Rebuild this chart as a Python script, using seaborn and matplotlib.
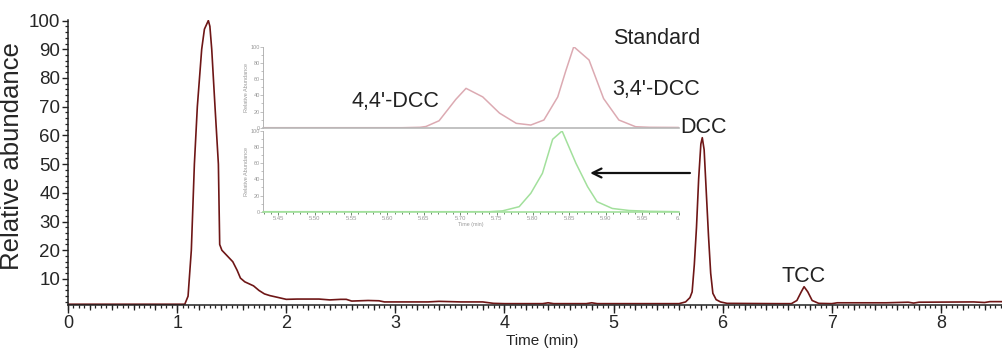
import matplotlib
matplotlib.use("Agg")
import matplotlib.pyplot as plt
from matplotlib.ticker import MultipleLocator, FixedLocator, NullFormatter
import seaborn as sns
import pandas as pd

# ---------------- data ----------------
main_time = [0.00, 1.00, 1.07, 1.10, 1.13, 1.158, 1.185, 1.225, 1.25, 1.286, 1.30, 1.317,
             1.347, 1.378, 1.39, 1.41, 1.46, 1.51, 1.55, 1.58, 1.62, 1.66, 1.70, 1.75,
             1.80, 1.85, 1.92, 2.00, 2.10, 2.30, 2.40, 2.50, 2.55, 2.60, 2.75, 2.85,
             2.90, 3.00, 3.30, 3.40, 3.60, 3.80, 3.90, 4.00, 4.35, 4.40, 4.45, 4.75,
             4.80, 4.85, 5.00, 5.40, 5.60, 5.66, 5.70, 5.72, 5.74, 5.76, 5.78, 5.80,
             5.813, 5.83, 5.85, 5.87, 5.89, 5.91, 5.94, 5.98, 6.04, 6.50, 6.63, 6.68,
             6.72, 6.746, 6.78, 6.82, 6.88, 7.00, 7.05, 7.50, 7.70, 7.75, 7.80, 8.30,
             8.40, 8.45, 8.56]
main_abund = [1.2, 1.2, 1.2, 4.0, 20.0, 50.0, 70.0, 90.0, 97.0, 100.0, 98.0, 90.0,
              70.0, 50.0, 22.0, 20.0, 18.0, 16.0, 13.0, 10.3, 9.0, 8.3, 7.6, 6.0,
              4.8, 4.2, 3.6, 2.9, 3.0, 3.0, 2.7, 2.9, 2.9, 2.3, 2.5, 2.4,
              2.0, 2.0, 2.0, 2.2, 2.0, 2.0, 1.5, 1.4, 1.4, 1.7, 1.4, 1.4,
              1.7, 1.4, 1.4, 1.4, 1.4, 2.0, 3.5, 5.5, 15.0, 28.0, 45.0, 57.0,
              59.2, 55.0, 40.0, 25.0, 12.0, 5.0, 2.8, 2.0, 1.5, 1.4, 1.4, 2.5,
              5.5, 7.3, 5.5, 2.5, 1.5, 1.4, 1.7, 1.7, 1.9, 1.6, 1.9, 2.0,
              1.8, 2.1, 2.1]

std_time = [5.43, 5.62, 5.645, 5.653, 5.671, 5.694, 5.708, 5.731, 5.754, 5.777, 5.797,
            5.815, 5.834, 5.845, 5.856, 5.877, 5.897, 5.918, 5.941, 5.96, 6.00]
std_abund = [0.0, 0.0, 0.5, 1.5, 8.6, 35.0, 48.6, 38.0, 18.0, 5.4, 3.3,
             9.5, 38.0, 70.0, 100.0, 83.6, 36.0, 9.5, 1.2, 0.5, 0.3]

dcc_time = [5.43, 5.74, 5.758, 5.781, 5.797, 5.813, 5.827, 5.840, 5.859, 5.875, 5.888,
            5.909, 5.932, 5.96, 6.00]
dcc_abund = [0.0, 0.0, 1.0, 6.2, 22.8, 47.6, 89.7, 100.0, 60.0, 31.0, 12.4,
             4.0, 1.5, 0.5, 0.0]

main_yticks = [10, 20, 30, 40, 50, 60, 70, 80, 90, 100]
main_xticks = [0, 1, 2, 3, 4, 5, 6, 7, 8]
inset_xticks = [5.45, 5.50, 5.55, 5.60, 5.65, 5.70, 5.75, 5.80, 5.85, 5.90, 5.95, 6.00]
inset_xlabels = ["5.45", "5.50", "5.55", "5.60", "5.65", "5.70", "5.75", "5.80",
                 "5.85", "5.90", "5.95", "6."]
inset_yticks = [0, 20, 40, 60, 80, 100]

labels = ["Standard", "3,4'-DCC", "4,4'-DCC", "DCC", "TCC"]
label_x = [5.396, 5.388, 3.005, 5.82, 6.74]
label_y = [93.9, 75.9, 71.8, 62.7, 10.8]

# ---------------- styling ----------------
sns.set_theme(style="ticks")
plt.rcParams["font.family"] = ["Liberation Sans", "DejaVu Sans"]

fig = plt.figure(figsize=(10.02, 3.52), dpi=100)
ax = fig.add_axes([0.0679, 0.1341, 0.9321, 0.810])

main_df = pd.DataFrame({"time": main_time, "abund": main_abund})
sns.lineplot(data=main_df, x="time", y="abund", ax=ax, color="#6e1616",
             linewidth=1.2, sort=False)

ax.set_xlim(0, 8.56)
ax.set_ylim(1.0, 100.3)
for s in ["top", "right"]:
    ax.spines[s].set_visible(False)
for s in ["left", "bottom"]:
    ax.spines[s].set_color("#222222")
    ax.spines[s].set_linewidth(1.1)

ax.xaxis.set_major_locator(FixedLocator(main_xticks))
ax.xaxis.set_minor_locator(MultipleLocator(0.05))
ax.yaxis.set_major_locator(FixedLocator(main_yticks))
ax.yaxis.set_minor_locator(MultipleLocator(2))
ax.tick_params(axis="x", which="major", length=5.5, width=1.0, color="#222222",
               labelsize=13, pad=1.5, direction="out")
ax.tick_params(axis="x", which="minor", length=2.2, width=0.9, color="#222222")
ax.tick_params(axis="y", which="major", length=4.5, width=1.0, color="#222222",
               labelsize=13.5, pad=1, direction="out")
ax.tick_params(axis="y", which="minor", length=2.5, width=0.9, color="#222222")

# medium ticks every 0.2 min
sec = ax.secondary_xaxis("bottom")
sec.set_xticks([t / 5 for t in range(0, 43)])
sec.xaxis.set_major_formatter(NullFormatter())
sec.tick_params(axis="x", length=3.8, width=0.9, color="#222222")
sec.spines["bottom"].set_visible(False)

ax.set_xlabel("Time (min)", fontsize=11)
ax.xaxis.set_label_coords(0.508, -0.103)
ax.set_ylabel("Relative abundance", fontsize=18.5)
ax.yaxis.set_label_coords(-0.047, 0.52)

for txt, tx, ty in zip(labels, label_x, label_y):
    ax.text(tx, ty, txt, fontsize=15.5, ha="center", va="center", color="#222222")

ax.annotate("", xy=(4.785, 46.9), xytext=(5.70, 46.9),
            arrowprops=dict(arrowstyle="->", lw=1.6, color="#111111",
                            mutation_scale=16, shrinkA=0, shrinkB=0))

# ---------------- inset (standard chromatograms) ----------------
gray = "#a8a8a8"
ax_top = fig.add_axes([0.2628, 0.6372, 0.4144, 0.2301])
ax_bot = fig.add_axes([0.2628, 0.3986, 0.4144, 0.2293])

std_df = pd.DataFrame({"time": std_time, "abund": std_abund})
dcc_df = pd.DataFrame({"time": dcc_time, "abund": dcc_abund})
sns.lineplot(data=std_df, x="time", y="abund", ax=ax_top, color="#dcaab2",
             linewidth=1.1, sort=False)
sns.lineplot(data=dcc_df, x="time", y="abund", ax=ax_bot, color="#a2e09c",
             linewidth=1.1, sort=False)

for a in (ax_top, ax_bot):
    a.set_facecolor("none")
    a.set_xlim(5.4295, 6.0)
    a.set_ylim(0, 100)
    a.spines["top"].set_visible(False)
    a.spines["right"].set_visible(False)
    a.spines["left"].set_color(gray)
    a.spines["left"].set_linewidth(0.6)
    a.spines["bottom"].set_color(gray)
    a.spines["bottom"].set_linewidth(1.2)
    a.yaxis.set_major_locator(FixedLocator(inset_yticks))
    a.yaxis.set_minor_locator(MultipleLocator(10))
    a.tick_params(axis="y", which="major", length=2, width=0.5, color=gray,
                  labelsize=4, labelcolor="#999999", pad=0.5)
    a.tick_params(axis="y", which="minor", length=1.2, width=0.5, color=gray)
    a.set_ylabel("Relative Abundance", fontsize=4, color="#999999", labelpad=1)
    a.set_xlabel("")

ax_top.set_xticks([])
ax_top.spines["bottom"].set_color("#b8b8b8")

ax_bot.xaxis.set_major_locator(FixedLocator(inset_xticks))
ax_bot.set_xticklabels(inset_xlabels)
ax_bot.xaxis.set_minor_locator(MultipleLocator(0.01))
ax_bot.tick_params(axis="x", which="major", length=2, width=0.6, color="#557755",
                   labelsize=4.2, labelcolor="#999999", pad=1)
ax_bot.tick_params(axis="x", which="minor", length=1.2, width=0.6, color="#557755")
ax_bot.spines["bottom"].set_color("#a2e09c")
ax_bot.set_xlabel("Time (min)", fontsize=3.8, color="#999999", labelpad=0.5)

fig.savefig("out.png", dpi=100)
